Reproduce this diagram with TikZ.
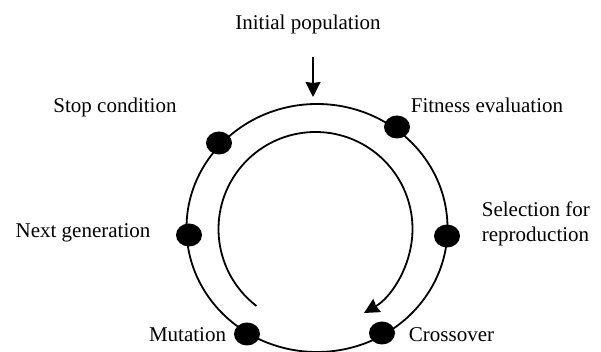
\documentclass[tikz,border=0pt]{standalone}
\usepackage{fontspec}
\setmainfont{Liberation Serif}
\usetikzlibrary{arrows.meta,shapes.geometric,calc}
\begin{document}
\begin{tikzpicture}[x=1pt,y=1pt,
  line width=1.8pt,
  dot/.style={ellipse,fill=black,draw=none,minimum width=26pt,minimum height=23pt,inner sep=0pt},
  lbl/.style={font=\fontsize{21}{25}\selectfont,inner sep=0pt},
  tip/.style={-{Stealth[length=15pt,width=15pt,inset=1pt]}}]
\useasboundingbox (0,0) rectangle (601,352);
\begin{scope}
\clip (0,0) rectangle (601,352);
% outer cycle
\draw (317,124) ellipse [x radius=130.5, y radius=124];
\end{scope}
% inner flow arc
\coordinate (arcstart) at ($(315.5,123)+(232.5:97)$);
\draw[tip] (arcstart) arc [start angle=232.5, end angle=-60, radius=97];
% dots
\node[dot] (dstop) at (219,209) {};
\node[dot] (dfit)  at (397,225) {};
\node[dot] (dnext) at (189,117) {};
\node[dot] (dsel)  at (447,116) {};
\node[dot] (dmut)  at (247,18) {};
\node[dot] (dcro)  at (382,19) {};
% labels
\node[lbl,anchor=base] (init) at (308,322) {Initial population};
\node[lbl,anchor=base] (stop) at (115,239) {Stop condition};
\node[lbl,anchor=base] (fit) at (487,239) {Fitness evaluation};
\node[lbl,anchor=base] (next) at (83,114) {Next generation};
\node[lbl,anchor=base west] (sel1) at (481,135) {Selection for};
\node[lbl,anchor=base west] (sel2) at (481,110) {reproduction};
\node[lbl,anchor=base] (mut) at (187.5,10) {Mutation};
\node[lbl,anchor=base] (cro) at (451.5,10) {Crossover};
% entry arrow
\coordinate (arrstart) at (313,295);
\coordinate (arrend) at (313,255);
\draw[tip] (arrstart) -- (arrend);
\end{tikzpicture}
\end{document}
